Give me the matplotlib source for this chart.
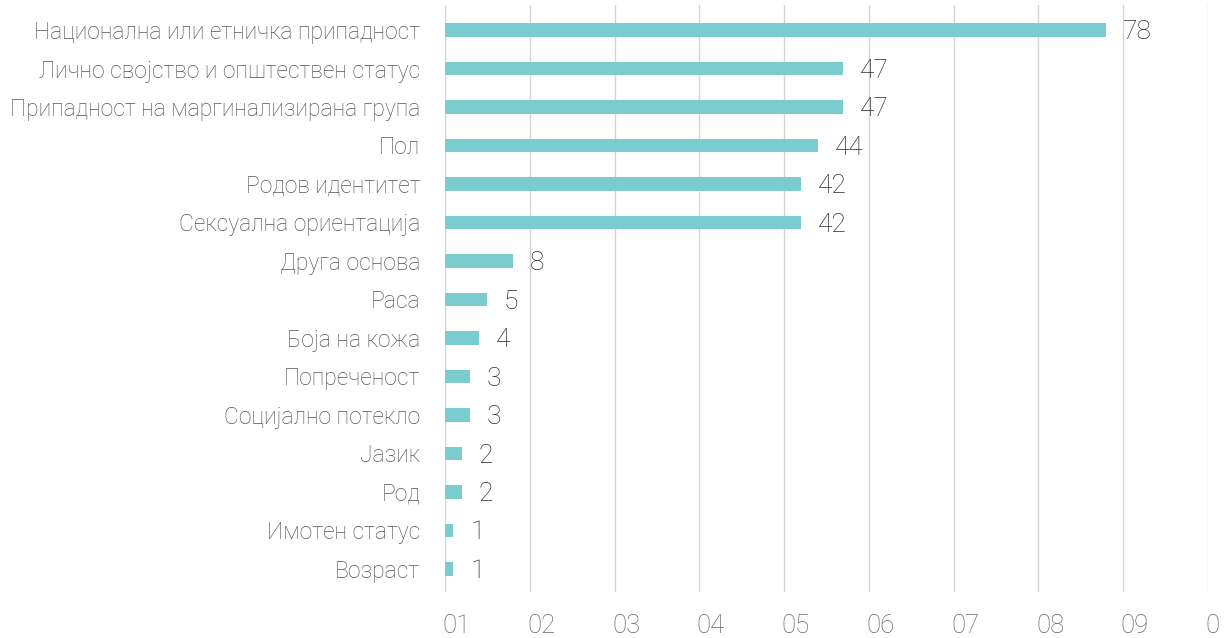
import matplotlib
matplotlib.use("Agg")
import matplotlib.pyplot as plt
import matplotlib.transforms as mtransforms
from matplotlib import font_manager

# data
categories = [
    "Национална или етничка припадност",
    "Лично својство и општествен статус",
    "Припадност на маргинализирана група",
    "Пол",
    "Родов идентитет",
    "Сексуална ориентација",
    "Друга основа",
    "Раса",
    "Боја на кожа",
    "Попреченост",
    "Социјално потекло",
    "Јазик",
    "Род",
    "Имотен статус",
    "Возраст",
]
values = [78, 47, 47, 44, 42, 42, 8, 5, 4, 3, 3, 2, 2, 1, 1]
tick_values = [0, 10, 20, 30, 40, 50, 60, 70, 80, 90]
tick_labels = ["01", "02", "03", "04", "05", "06", "07", "08", "09", "0"]

names = {f.name for f in font_manager.fontManager.ttflist}
family = "Roboto" if "Roboto" in names else "DejaVu Sans"
plt.rcParams["font.family"] = [family, "DejaVu Sans"]

fig = plt.figure(figsize=(12.26, 6.38), dpi=100)
ax = fig.add_axes([445 / 1226, 1 - 592 / 638, (1208 - 445) / 1226, 587 / 638])

ypos = list(range(len(categories)))
ax.barh(ypos, values, height=0.35, color="#7acccf", zorder=3)

for y, v in zip(ypos, values):
    ax.annotate(str(v), (v, y), xytext=(12, -1.5), textcoords="offset points",
                ha="left", va="center", fontsize=19, color="#2b2b2b",
                fontweight="light")

ax.set_xlim(0, 90)
ax.set_ylim(14.6, -0.65)
ax.set_yticks(ypos)
ax.set_yticklabels(categories, fontsize=16.5, color="#555555", fontweight="light")
ax.set_xticks(tick_values)
ax.set_xticklabels(tick_labels, fontsize=18.5, color="#666666", ha="left",
                   fontweight="light")
ax.tick_params(axis="y", length=0, pad=18)
ax.tick_params(axis="x", length=0, pad=16)
shift = mtransforms.ScaledTranslation(-2.5 / 100, 0, fig.dpi_scale_trans)
for lab in ax.get_xticklabels():
    lab.set_transform(lab.get_transform() + shift)

ax.grid(axis="x", color="#d4d4d4", linewidth=1, zorder=0)
for s in ax.spines.values():
    s.set_visible(False)

fig.savefig("out.png", dpi=100)
